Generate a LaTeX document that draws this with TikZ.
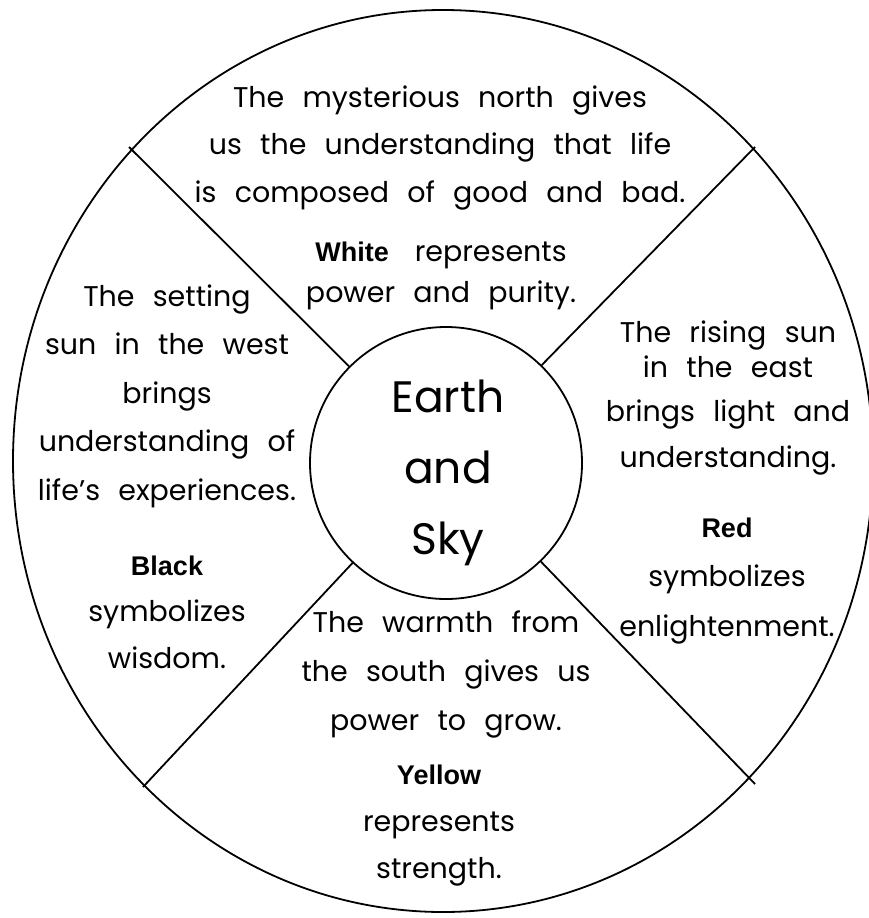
\documentclass[tikz,border=0pt]{standalone}
\usepackage{fontspec}
\setmainfont{Poppins}[WordSpace=2.4]
\newfontfamily\labfont{Liberation Sans}
\usetikzlibrary{shapes.geometric}
\begin{document}
\begin{tikzpicture}[x=1pt,y=-1pt,
  ink/.style={line width=1.8pt, black},
  txt/.style={align=center, inner sep=0pt, font=\fontsize{28.5}{47.5}\selectfont},
  big/.style={align=center, inner sep=0pt, font=\fontsize{44}{71}\selectfont}]
\useasboundingbox (0,0) rectangle (869,918);
\fill[white] (0,0) rectangle (869,918);
\node[ink, draw, ellipse, minimum width=860pt, minimum height=902pt, inner sep=0pt] (outer) at (443,461) {};
\node[ink, draw, circle, minimum size=272pt, inner sep=0pt] (center) at (446,463) {};
\coordinate (nw) at (129,147);
\coordinate (ne) at (755,147);
\coordinate (sw) at (143,787);
\coordinate (se) at (755,784);
\draw[ink] (center) -- (nw);
\draw[ink] (center) -- (ne);
\draw[ink] (center) -- (sw);
\draw[ink] (center) -- (se);
\node[big] (hub) at (448,473) {Earth\\and\\Sky};
\node[txt] (north) at (440,148) {The mysterious north gives\\us the understanding that life\\is composed of good and bad.};
\node[txt, font=\fontsize{28.5}{41}\selectfont] (white) at (441,276) {{\labfont\bfseries\fontsize{27}{41}\selectfont White}\hspace{26pt}represents\\power and purity.};
\node[txt, font=\fontsize{28.5}{48.5}\selectfont] (west) at (167,396) {The setting\\sun in the west\\brings\\understanding of\\life's experiences.};
\node[txt, font=\fontsize{28.5}{46.5}\selectfont] (black) at (167,612) {{\labfont\bfseries\fontsize{27}{46.5}\selectfont Black}\\symbolizes\\wisdom.};
\node[txt, font=\fontsize{28.5}{46}\selectfont] (east) at (728,398) {The rising sun\hspace{10pt}\\[-11pt]in the east\\[-2pt]brings light and\\understanding.};
\node[txt, font=\fontsize{28.5}{49.5}\selectfont] (red) at (727,581) {{\labfont\bfseries\fontsize{27}{49.5}\selectfont Red}\\symbolizes\\enlightenment.};
\node[txt, font=\fontsize{28.5}{49}\selectfont] (south) at (446,674) {The warmth from\\the south gives us\\power to grow.};
\node[txt, font=\fontsize{28.5}{47}\selectfont] (yellow) at (439,826) {{\labfont\bfseries\fontsize{27}{47}\selectfont Yellow}\\represents\\strength.};
\end{tikzpicture}
\end{document}
